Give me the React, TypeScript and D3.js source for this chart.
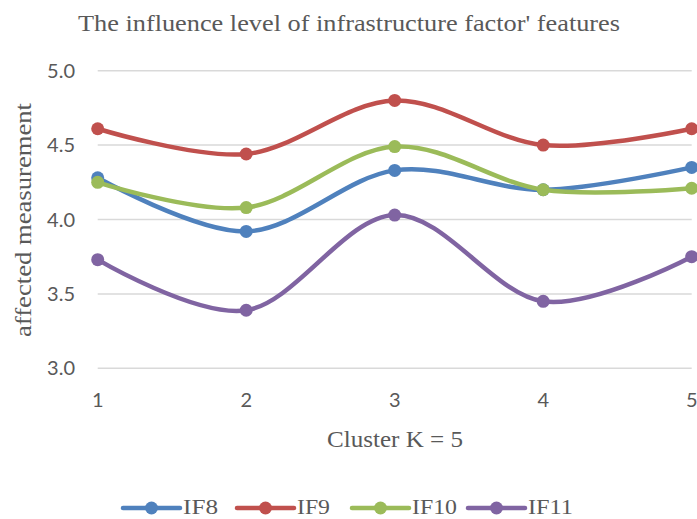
import React, { useEffect, useRef } from 'react';
import * as d3 from 'd3';

const clusters = [1, 2, 3, 4, 5];
const seriesNames = ['IF8', 'IF9', 'IF10', 'IF11'];
const if8 = [4.28, 3.92, 4.33, 4.2, 4.35];
const if9 = [4.61, 4.44, 4.8, 4.5, 4.61];
const if10 = [4.25, 4.08, 4.49, 4.2, 4.21];
const if11 = [3.73, 3.39, 4.03, 3.45, 3.75];
const yTicks = [3.0, 3.5, 4.0, 4.5, 5.0];
const colors = ['#4F81BD', '#C0504D', '#9BBB59', '#8064A2'];

const width = 697;
const height = 519;

const App: React.FC = () => {
  const svgRef = useRef<SVGSVGElement>(null);

  useEffect(() => {
    if (!svgRef.current) return;
    const svg = d3.select(svgRef.current);
    svg.selectAll('*').remove();

    const series = [if8, if9, if10, if11];
    const serif = '"Liberation Serif", serif';
    const sans = 'Lato, "Open Sans", sans-serif';
    const textColor = '#595959';

    const x = d3.scaleLinear().domain([1, 5]).range([97.7, 691.7]);
    const y = d3.scaleLinear().domain([3, 5]).range([368.3, 70.7]);

    // Gridlines
    svg.append('g')
      .selectAll('line')
      .data(yTicks)
      .enter()
      .append('line')
      .attr('x1', x(1))
      .attr('x2', x(5))
      .attr('y1', d => y(d))
      .attr('y2', d => y(d))
      .attr('stroke', '#d9d9d9')
      .attr('stroke-width', 1.5);

    // Y tick labels
    svg.append('g')
      .selectAll('text')
      .data(yTicks)
      .enter()
      .append('text')
      .attr('x', 75)
      .attr('y', d => y(d))
      .attr('dy', '0.35em')
      .attr('text-anchor', 'end')
      .attr('font-family', sans)
      .attr('font-size', 20)
      .attr('fill', textColor)
      .text(d => d.toFixed(1));

    // X tick labels
    svg.append('g')
      .selectAll('text')
      .data(clusters)
      .enter()
      .append('text')
      .attr('x', d => x(d))
      .attr('y', 407)
      .attr('text-anchor', 'middle')
      .attr('font-family', sans)
      .attr('font-size', 20)
      .attr('fill', textColor)
      .text(d => d);

    // Lines (Excel-style smoothing)
    const line = d3.line<number>()
      .x((_, i) => x(clusters[i]))
      .y(d => y(d))
      .curve(d3.curveCardinal.tension(0));

    series.forEach((vals, si) => {
      const g = svg.append('g');
      g.append('path')
        .attr('d', line(vals) as string)
        .attr('fill', 'none')
        .attr('stroke', colors[si])
        .attr('stroke-width', 4.5)
        .attr('stroke-linecap', 'round');
      g.selectAll('circle')
        .data(vals)
        .enter()
        .append('circle')
        .attr('cx', (_, i) => x(clusters[i]))
        .attr('cy', d => y(d))
        .attr('r', 6.5)
        .attr('fill', colors[si]);
    });

    // Title
    svg.append('text')
      .attr('x', 349)
      .attr('y', 31)
      .attr('text-anchor', 'middle')
      .attr('font-family', serif)
      .attr('font-size', 24)
      .attr('textLength', 542)
      .attr('lengthAdjust', 'spacingAndGlyphs')
      .attr('fill', textColor)
      .text("The influence level of infrastructure factor' features");

    // Axis titles
    svg.append('text')
      .attr('transform', 'translate(31,220) rotate(-90)')
      .attr('text-anchor', 'middle')
      .attr('font-family', serif)
      .attr('font-size', 24)
      .attr('textLength', 234)
      .attr('lengthAdjust', 'spacingAndGlyphs')
      .attr('fill', textColor)
      .text('affected measurement');

    svg.append('text')
      .attr('x', 395)
      .attr('y', 447)
      .attr('text-anchor', 'middle')
      .attr('font-family', serif)
      .attr('font-size', 23)
      .attr('textLength', 136)
      .attr('lengthAdjust', 'spacingAndGlyphs')
      .attr('fill', textColor)
      .text('Cluster K = 5');

    // Legend
    const legendX = [123, 237, 352, 468];
    const legendW = [35, 33, 45, 45];
    const legend = svg.append('g')
      .selectAll('g')
      .data(seriesNames)
      .enter()
      .append('g')
      .attr('transform', (_, i) => `translate(${legendX[i]},508)`);
    legend.append('line')
      .attr('x1', 0)
      .attr('x2', 57)
      .attr('stroke', (_, i) => colors[i])
      .attr('stroke-width', 4.5)
      .attr('stroke-linecap', 'round');
    legend.append('circle')
      .attr('cx', 28.5)
      .attr('r', 6.5)
      .attr('fill', (_, i) => colors[i]);
    legend.append('text')
      .attr('x', 60)
      .attr('y', 6)
      .attr('font-family', serif)
      .attr('font-size', 22)
      .attr('textLength', (_, i) => legendW[i])
      .attr('lengthAdjust', 'spacingAndGlyphs')
      .attr('fill', textColor)
      .text(d => d);
  }, []);

  return (
    <svg
      ref={svgRef}
      width={width}
      height={height}
      viewBox={`0 0 ${width} ${height}`}
      style={{ position: 'absolute', left: 0, top: 0, background: '#fff' }}
    />
  );
};

export default App;
